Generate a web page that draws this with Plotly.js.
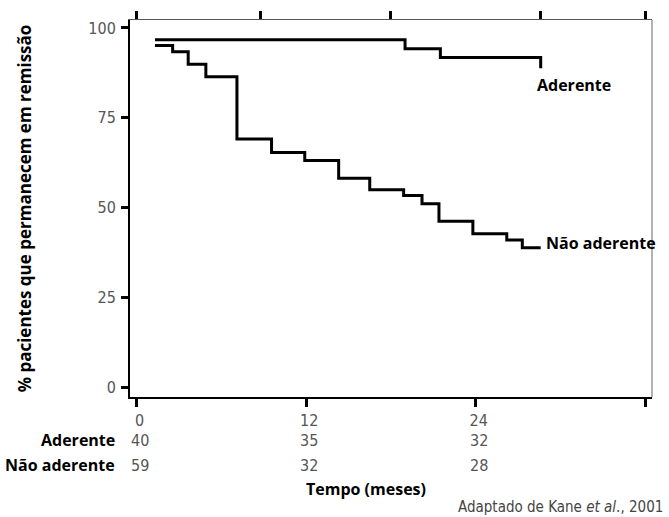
<!DOCTYPE html>
<html>
<head>
<meta charset="utf-8">
<script src="https://cdn.plot.ly/plotly-3.0.1.min.js"></script>
<style>
html,body{margin:0;padding:0;background:#fff;}
#chart{width:669px;height:517px;}
</style>
</head>
<body>
<div id="chart"></div>
<script>
// ---- data ----
const aderenteMonths = [1.3, 19.0, 21.5, 28.6];
const aderentePct    = [96.7, 94.2, 91.8, 88.8];

const naoMonths = [1.3, 2.55, 3.65, 4.9, 7.1, 9.55, 11.9, 14.3, 16.5, 18.9, 20.2, 21.4, 23.8, 26.2, 27.3, 28.6];
const naoPct    = [95.1, 93.4, 89.9, 86.4, 69.1, 65.3, 63.1, 58.2, 55.0, 53.4, 51.1, 46.2, 42.7, 41.0, 38.8, 38.8];

const groupNames = ["Aderente", "Não aderente"];
const atRiskMonths = [0, 12, 24];
const aderenteAtRisk = [40, 35, 32];
const naoAtRisk = [59, 32, 28];

const xTickVals = [0, 12, 24, 36];
const xTickText = ["0", "12", "24", ""];
const yTickVals = [0, 25, 50, 75, 100];
const topTickMonths = [0, 8.75, 18, 28.6, 36];

const yTitle = "% pacientes que permanecem em remissão";
const xTitle = "Tempo (meses)";
const sourceNote = "Adaptado de Kane <i>et al</i>., 2001";

// ---- styles ----
const lightFont = "Liberation Sans Narrow, DejaVu Sans Condensed, Arial Narrow, sans-serif";
const boldFont = "Open Sans, Noto Sans, DejaVu Sans, sans-serif";
const X_RANGE = [-0.47, 36.48];
const Y_RANGE = [-2.7, 102.2];

const traces = [
  {x: aderenteMonths, y: aderentePct, name: groupNames[0], mode: "lines",
   line: {shape: "hv", color: "#000", width: 3}, xaxis: "x", yaxis: "y"},
  {x: naoMonths, y: naoPct, name: groupNames[1], mode: "lines",
   line: {shape: "hv", color: "#000", width: 3}, xaxis: "x", yaxis: "y"}
];

const annotations = [];
// curve labels
annotations.push({x: 28.2, y: 84.1, xref: "x", yref: "y", text: "<b>" + groupNames[0] + "</b>",
  showarrow: false, xanchor: "left", yanchor: "middle", font: {family: boldFont, size: 16, color: "#000"}});
annotations.push({x: 28.8, y: 40.1, xref: "x", yref: "y", text: "<b>" + groupNames[1] + "</b>",
  showarrow: false, xanchor: "left", yanchor: "middle", font: {family: boldFont, size: 16, color: "#000"}});

// at-risk table
const rowY = [-0.1141, -0.1804];
const rowVals = [aderenteAtRisk, naoAtRisk];
for (let r = 0; r < 2; r++) {
  annotations.push({x: -0.025, y: rowY[r], xref: "paper", yref: "paper", text: "<b>" + groupNames[r] + "</b>",
    showarrow: false, xanchor: "right", yanchor: "middle", font: {family: boldFont, size: 16, color: "#000"}});
  for (let i = 0; i < atRiskMonths.length; i++) {
    annotations.push({x: atRiskMonths[i], y: rowY[r], xref: "x", yref: "paper", text: String(rowVals[r][i]),
      showarrow: false, xanchor: "center", yanchor: "middle", xshift: 3,
      font: {family: lightFont, size: 16, color: "#555"}});
  }
}
// x title
annotations.push({x: 0.0, y: -0.2448, xref: "paper", yref: "paper", text: "<b>" + xTitle + "</b>",
  showarrow: false, xanchor: "center", yanchor: "middle", xshift: 236,
  font: {family: boldFont, size: 16, color: "#000"}});
// source
annotations.push({x: 1.0249, y: -0.2918, xref: "paper", yref: "paper", text: sourceNote,
  showarrow: false, xanchor: "right", yanchor: "middle", font: {family: lightFont, size: 15, color: "#444"}});

const layout = {
  width: 669, height: 517,
  margin: {l: 130, r: 16.5, t: 20, b: 120, pad: 0},
  paper_bgcolor: "#fff", plot_bgcolor: "#fff",
  showlegend: false,
  xaxis: {
    range: X_RANGE, tickvals: xTickVals, ticktext: xTickText,
    ticks: "outside", ticklen: 8, tickwidth: 3, tickcolor: "#000",
    showline: true, linewidth: 2, linecolor: "#000",
    showgrid: false, zeroline: false, ticklabelshift: 3,
    tickfont: {family: lightFont, size: 16, color: "#555"}
  },
  xaxis2: {
    overlaying: "x", side: "top", range: X_RANGE, tickvals: topTickMonths,
    showticklabels: false, ticks: "outside", ticklen: 8, tickwidth: 3, tickcolor: "#000",
    showline: true, linewidth: 1, linecolor: "#555", showgrid: false, zeroline: false
  },
  yaxis: {
    range: Y_RANGE, tickvals: yTickVals,
    ticks: "outside", ticklen: 7, tickwidth: 3, tickcolor: "#000",
    showline: true, linewidth: 2, linecolor: "#000",
    showgrid: false, zeroline: false, ticklabelstandoff: 2,
    tickfont: {family: lightFont, size: 16, color: "#555"},
    title: {text: "<b>" + yTitle + "</b>", standoff: 52, font: {family: boldFont, size: 17, color: "#000"}}
  },
  shapes: [
    {type: "line", xref: "paper", yref: "paper", x0: 1, x1: 1, y0: 0, y1: 1,
     line: {color: "#666", width: 1}}
  ],
  annotations: annotations
};

// invisible helper trace so the top axis (xaxis2) is drawn
traces.push({x: [X_RANGE[0]], y: [Y_RANGE[0]], xaxis: "x2", yaxis: "y", mode: "markers",
  marker: {opacity: 0}, hoverinfo: "skip", showlegend: false});

Plotly.newPlot("chart", traces, layout, {staticPlot: true, displayModeBar: false});
</script>
</body>
</html>
